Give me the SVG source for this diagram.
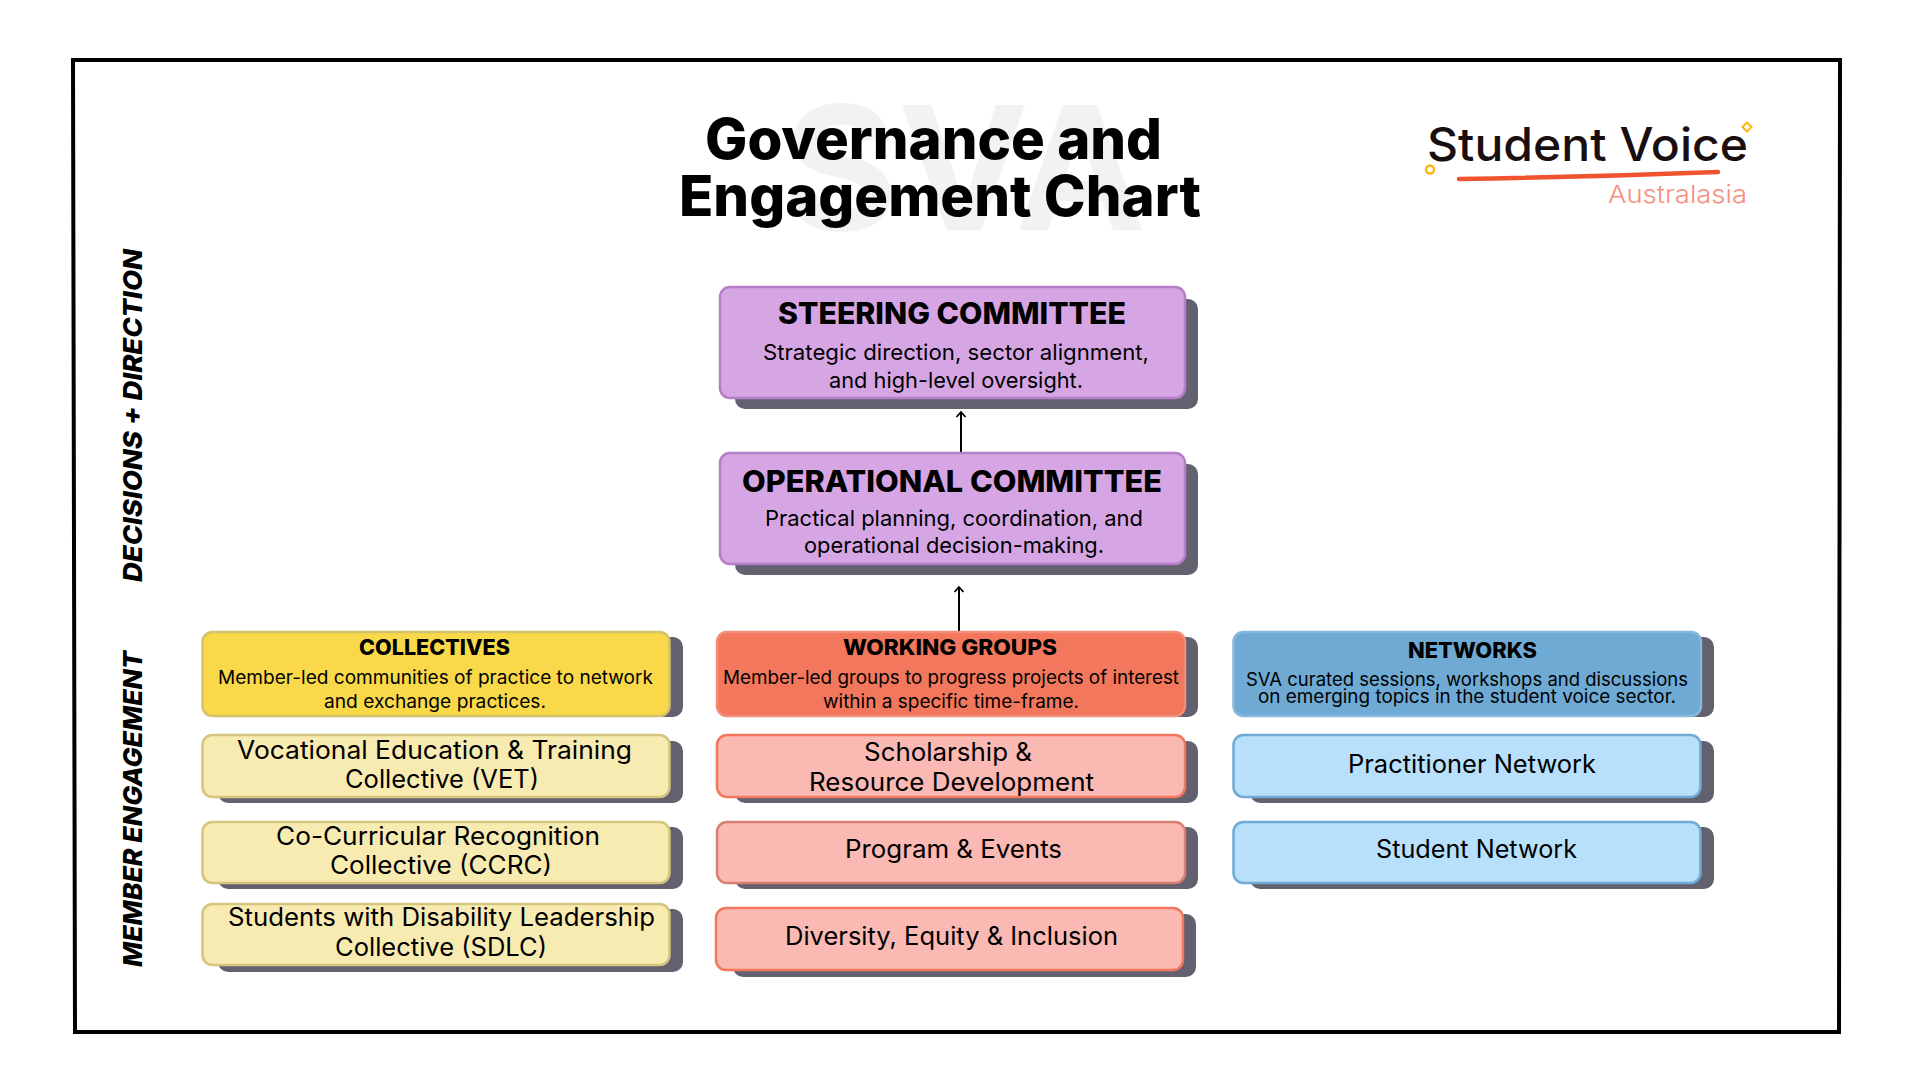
<svg xmlns="http://www.w3.org/2000/svg" width="1920" height="1080" viewBox="0 0 1920 1080">
<style>
text{font-family:Inter,"Liberation Sans",sans-serif;fill:#000}
.sh{fill:#63616f}
.b{stroke-width:2.5}
.pu{fill:#d6a6e4;stroke:#b67ec6}
.ye{fill:#f9d84a;stroke:#d4c26a}
.py{fill:#f8ebb2;stroke:#d3c67c}
.co{fill:#f2775c;stroke:#f48d78}
.pk{fill:#fbb9b3;stroke:#f2775c}
.bl{fill:#6eaad4;stroke:#86b8dc}
.pb{fill:#b8e0fa;stroke:#6eaad4}
.tt{font-size:56px;font-weight:800}
.t1{font-size:30px;font-weight:800}
.t2{font-size:21px;font-weight:800}
.d1{font-size:22px;font-weight:400}
.d2{font-size:18.5px;font-weight:400}
.i{font-size:25px;font-weight:400}
.side{font-size:26px;font-weight:800;font-style:italic}
</style>
<defs><marker id="ah" markerWidth="14" markerHeight="14" refX="11" refY="6" orient="auto" markerUnits="userSpaceOnUse"><path d="M6 1.500L11 6L6 10.500" fill="none" stroke="#000" stroke-width="1.800"/></marker></defs>
<rect width="1920" height="1080" fill="#fff"/>
<path id="frame" d="M73 60H1840L1839 1032H75Z" fill="none" stroke="#000" stroke-width="4"/>
<g id="watermark"><text x="783" y="230" font-size="172" font-weight="700" style="fill:#f2f2f2" textLength="363" lengthAdjust="spacingAndGlyphs">SVA</text></g>
<g id="title"><text class="tt" x="705" y="159" textLength="457" lengthAdjust="spacingAndGlyphs">Governance and</text><text class="tt" x="679" y="216" textLength="522" lengthAdjust="spacingAndGlyphs">Engagement Chart</text></g>
<g id="logo">
<text x="1427" y="161" style="font-size:46px;font-weight:500;fill:#1a0f10" textLength="321" lengthAdjust="spacingAndGlyphs">Student Voice</text>
<text x="1608" y="203" style="font-size:24px;font-weight:300;fill:#f78f7f" textLength="139" lengthAdjust="spacingAndGlyphs">Australasia</text>
<path d="M1459 179Q1590 177 1718 172" fill="none" stroke="#f0532f" stroke-width="4.500" stroke-linecap="round"/>
<circle cx="1430" cy="169.500" r="4" fill="none" stroke="#fbb811" stroke-width="2.500"/>
<path d="M1747 122.500L1751.500 127L1747 131.500L1742.500 127Z" fill="none" stroke="#fbb811" stroke-width="2"/>
</g>
<g id="side-labels">
<text transform="translate(142 582) rotate(-90)" class="side" textLength="333" lengthAdjust="spacingAndGlyphs">DECISIONS + DIRECTION</text>
<text transform="translate(142 967) rotate(-90)" class="side" textLength="316" lengthAdjust="spacingAndGlyphs">MEMBER ENGAGEMENT</text>
</g>
<g id="connectors" fill="none" stroke="#000" stroke-width="2">
<path d="M961 452V412" marker-end="url(#ah)"/>
<path d="M959 631V587" marker-end="url(#ah)"/>
</g>
<g id="steering"><rect class="sh" x="735" y="299" width="463" height="110" rx="10"/><rect class="b pu" x="720" y="287" width="465" height="111" rx="10"/>
<text class="t1" x="778" y="324" textLength="348" lengthAdjust="spacingAndGlyphs">STEERING COMMITTEE</text>
<text class="d1" x="763" y="360" textLength="386" lengthAdjust="spacingAndGlyphs">Strategic direction, sector alignment,</text>
<text class="d1" x="829" y="388" textLength="254" lengthAdjust="spacingAndGlyphs">and high-level oversight.</text></g>
<g id="operational"><rect class="sh" x="735" y="464" width="463" height="111" rx="10"/><rect class="b pu" x="720" y="453" width="465" height="111" rx="10"/>
<text class="t1" x="742" y="492" textLength="420" lengthAdjust="spacingAndGlyphs">OPERATIONAL COMMITTEE</text>
<text class="d1" x="765" y="526" textLength="378" lengthAdjust="spacingAndGlyphs">Practical planning, coordination, and</text>
<text class="d1" x="804" y="553" textLength="300" lengthAdjust="spacingAndGlyphs">operational decision-making.</text></g>
<g id="collectives"><rect class="sh" x="218" y="637" width="465" height="80" rx="10"/><rect class="b ye" x="202.500" y="632" width="467" height="84" rx="10"/>
<text class="t2" x="359" y="655" textLength="151" lengthAdjust="spacingAndGlyphs">COLLECTIVES</text>
<text class="d2" x="218" y="684" textLength="435" lengthAdjust="spacingAndGlyphs">Member-led communities of practice to network</text>
<text class="d2" x="324" y="708" textLength="222" lengthAdjust="spacingAndGlyphs">and exchange practices.</text></g>
<g id="vet"><rect class="sh" x="218" y="741" width="465" height="62" rx="10"/><rect class="b py" x="202.500" y="735" width="467" height="62" rx="10"/>
<text class="i" x="237" y="759" textLength="395" lengthAdjust="spacingAndGlyphs">Vocational Education &amp; Training</text>
<text class="i" x="345" y="788" textLength="194" lengthAdjust="spacingAndGlyphs">Collective (VET)</text></g>
<g id="ccrc"><rect class="sh" x="218" y="827" width="465" height="62" rx="10"/><rect class="b py" x="202.500" y="822" width="467" height="61" rx="10"/>
<text class="i" x="276" y="845" textLength="324" lengthAdjust="spacingAndGlyphs">Co-Curricular Recognition</text>
<text class="i" x="330" y="874" textLength="222" lengthAdjust="spacingAndGlyphs">Collective (CCRC)</text></g>
<g id="sdlc"><rect class="sh" x="218" y="909" width="465" height="63" rx="10"/><rect class="b py" x="202.500" y="904" width="467" height="61" rx="10"/>
<text class="i" x="228" y="926" textLength="427" lengthAdjust="spacingAndGlyphs">Students with Disability Leadership</text>
<text class="i" x="335" y="956" textLength="212" lengthAdjust="spacingAndGlyphs">Collective (SDLC)</text></g>
<g id="working"><rect class="sh" x="735" y="637" width="463" height="80" rx="10"/><rect class="b co" x="717" y="632" width="468" height="84" rx="10"/>
<text class="t2" x="843" y="655" textLength="214" lengthAdjust="spacingAndGlyphs">WORKING GROUPS</text>
<text class="d2" x="723" y="684" textLength="456" lengthAdjust="spacingAndGlyphs">Member-led groups to progress projects of interest</text>
<text class="d2" x="823" y="708" textLength="256" lengthAdjust="spacingAndGlyphs">within a specific time-frame.</text></g>
<g id="scholarship"><rect class="sh" x="735" y="741" width="463" height="62" rx="10"/><rect class="b pk" x="717" y="735" width="468" height="62" rx="10"/>
<text class="i" x="864" y="761" textLength="168" lengthAdjust="spacingAndGlyphs">Scholarship &amp;</text>
<text class="i" x="809" y="791" textLength="285" lengthAdjust="spacingAndGlyphs">Resource Development</text></g>
<g id="program"><rect class="sh" x="735" y="827" width="463" height="62" rx="10"/><rect class="b pk" style="stroke:#d97f72" x="717" y="822" width="468" height="61" rx="10"/>
<text class="i" x="845" y="858" textLength="217" lengthAdjust="spacingAndGlyphs">Program &amp; Events</text></g>
<g id="dei"><rect class="sh" x="733" y="914" width="463" height="63" rx="10"/><rect class="b pk" x="716" y="908" width="467" height="62" rx="10"/>
<text class="i" x="785" y="945" textLength="333" lengthAdjust="spacingAndGlyphs">Diversity, Equity &amp; Inclusion</text></g>
<g id="networks"><rect class="sh" x="1250" y="637" width="464" height="80" rx="10"/><rect class="b bl" x="1233.500" y="632" width="467.500" height="84" rx="10"/>
<text class="t2" x="1408" y="658" textLength="129" lengthAdjust="spacingAndGlyphs">NETWORKS</text>
<text class="d2" x="1246" y="686" textLength="442" lengthAdjust="spacingAndGlyphs">SVA curated sessions, workshops and discussions</text>
<text class="d2" x="1258" y="703" textLength="418" lengthAdjust="spacingAndGlyphs">on emerging topics in the student voice sector.</text></g>
<g id="practitioner"><rect class="sh" x="1250" y="741" width="464" height="62" rx="10"/><rect class="b pb" x="1233.500" y="735" width="467" height="62" rx="10"/>
<text class="i" x="1348" y="773" textLength="248" lengthAdjust="spacingAndGlyphs">Practitioner Network</text></g>
<g id="student"><rect class="sh" x="1250" y="827" width="464" height="62" rx="10"/><rect class="b pb" x="1233.500" y="822" width="467" height="61" rx="10"/>
<text class="i" x="1376" y="858" textLength="201" lengthAdjust="spacingAndGlyphs">Student Network</text></g>
</svg>
